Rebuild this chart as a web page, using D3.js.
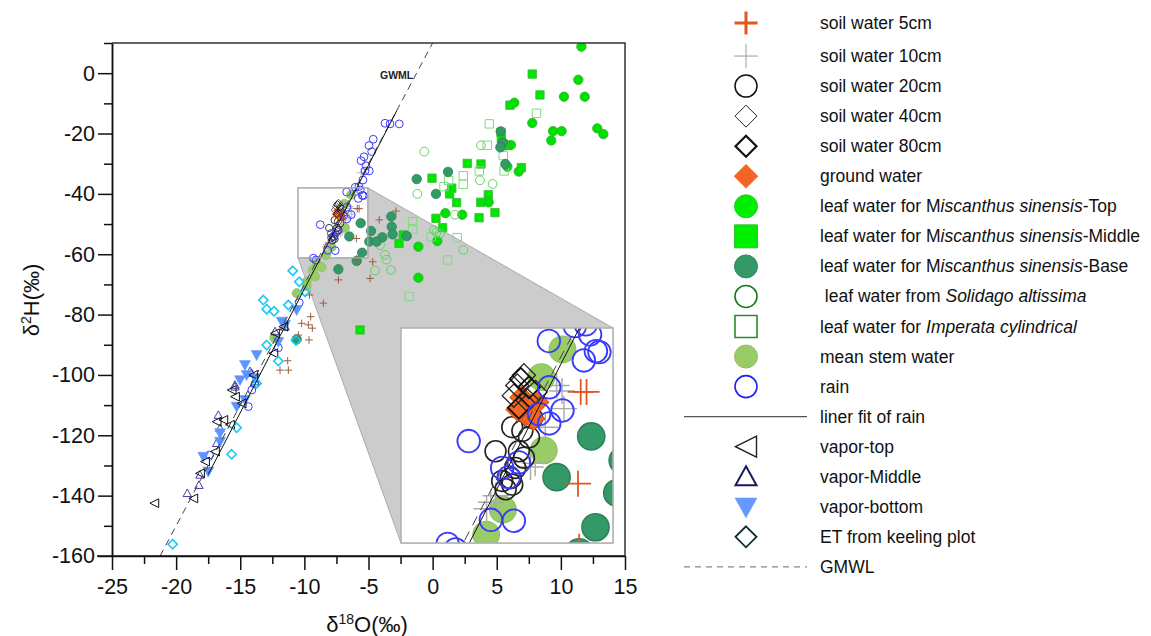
<!DOCTYPE html>
<html>
<head>
<meta charset="utf-8">
<script src="https://cdn.jsdelivr.net/npm/d3@7"></script>
<style>
  body { margin: 0; background: #fff; }
  text { font-family: "Liberation Sans", Arial, sans-serif; }
</style>
</head>
<body>
<div id="chart"></div>
<script>
// isotope data, [d18O, d2H] pairs
const soil5cm = [[-5.88,-44.9],[-5.73,-44.9],[-2.86,-45.7],[-4.16,-48.6],[-5.95,-54.8],[-5.92,-61.6],[-4.67,-62.5],
  [-4.88,-68.0],[-7.35,-68.5],[-8.52,-76.2],[-9.51,-80.7],[-9.6,-73.5],[-10.21,-82.9],[-9.69,-83.4],[-9.38,-84.5],
  [-10.47,-86.8],[-9.64,-88.4],[-11.3,-95.3],[-11.9,-98.4],[-11.25,-98.4]];
const soil10cm = [[-6.36,-44.8],[-6.31,-46.7],[-6.79,-48.7],[-7.17,-53.0],[-7.05,-52.6],[-8.07,-56.1],[-8.19,-56.8],
  [-8.3,-57.5],[-6.5,-44.2],[-5.58,-33.0]];
const soil20cm = [[-7.64,-48.7],[-7.38,-49.1],[-8.07,-51.3],[-7.47,-51.3],[-7.34,-52.0],[-7.56,-53.1],[-7.68,-54.2],
  [-7.9,-54.5],[-7.64,-54.9],[-7.81,-55.4],[-7.13,-47.7],[-7.21,-49.8]];
const soil40cm = [[-7.34,-43.1],[-7.51,-44.2],[-7.6,-45.3],[-7.04,-44.9],[-7.25,-45.8]];
const soil80cm = [[-7.42,-43.5],[-7.21,-44.4],[-7.47,-46.6]];
const groundWater = [[-7.4,-45.5],[-7.2,-46.5],[-7.3,-47.3],[-7.0,-46.0],[-7.5,-46.8],[-7.1,-47.8]];
const leafTop = [[11.6,8.8],[11.36,-2.2],[10.24,-7.8],[11.86,-7.8],[6.37,-9.8],[7.77,-16.5],[9.39,-19.2],[10.06,-19.2],
  [9.25,-22.3],[12.84,-18.3],[13.31,-20.2],[6.11,-23.8],[5.7,-23.9],[5.83,-31],[6.71,-32.6],[4.37,-42.8],[0.99,-46.4],
  [2.31,-46.9],[0.37,-55.6],[-1.11,-57.5],[-1.11,-67.8]];
const leafMiddle = [[7.77,-0.3],[8.37,-7.2],[6.03,-10.6],[5.33,-19.6],[5.36,-21.9],[5.5,-23.5],[5.82,-23.9],[2.70,-29.9],
  [3.77,-30.1],[6.92,-31.3],[-0.05,-34.8],[1.49,-38.1],[1.33,-40.0],[1.87,-42.9],[4.34,-40.3],[3.75,-42.8],[4.86,-46.2],
  [3.62,-47.9],[0.26,-48.1],[0.78,-51.2],[-2.29,-53.6],[-2.62,-56.4],[-5.66,-85.1]];
const leafBase = [[5.31,-19.3],[5.49,-23.0],[5.28,-24.6],[5.67,-30.1],[1.20,-32.7],[0.26,-40.0],[-1.24,-35.1],
  [-3.22,-47.5],[-3.19,-50.9],[-3.92,-54.4],[-3.12,-53.4],[-4.8,-52.3],[-4.94,-55.8],[-4.36,-55.8],[-5.61,-49.7],
  [-6.5,-54.1],[-2.02,-54.0],[-5.5,-59.5],[-7.35,-65.0],[-5.92,-62.2],[-10.6,-88.2]];
const solidago = [[3.77,-23.9],[3.69,-35.5],[4.68,-36.7],[1.74,-46.9],[0.11,-52],[0.57,-53.1],[2.39,-58.6],[-0.65,-26],
  [-1.19,-40],[-4.1,-57],[-3.71,-60.2],[-3.6,-61.8],[-4.49,-65.4],[-3.25,-65.2],[0.3,-52.8]];
const imperata = [[8.1,-13.3],[4.42,-16.8],[4.26,-23.9],[5.51,-27.3],[5.57,-32.4],[3.64,-32.4],[2.39,-34.0],[2.39,-36.8],
  [0.89,-37.6],[1.25,-35.6],[1.92,-54.5],[1.17,-61.9],[-1.56,-49.2],[-1.56,-51.6],[-0.1,-54.2],[-1.82,-74]];
const stemWater = [[-6.35,-40.3],[-6.89,-43.3],[-6.83,-51.2],[-7.88,-57.6],[-8.31,-60.3],[-9.04,-63],[-8.65,-64.3],
  [-9.35,-65.2],[-9.17,-67.4],[-9.82,-70.7],[-10.6,-72.9],[-12.35,-87.8],[-9.82,-69.1]];
const rain = [[-3.71,-16.6],[-3.32,-16.8],[-2.6,-16.8],[-4.63,-21.9],[-4.96,-24.0],[-4.75,-26],[-5.35,-27.7],[-5.58,-29],
  [-5.19,-30.7],[-4.94,-32.4],[-5.27,-32.4],[-5.43,-35.4],[-6.03,-37.8],[-6.70,-39.4],[-5.64,-38.7],[-5.8,-41.5],
  [-5.4,-40.6],[-5.49,-40.5],[-5.75,-37.6],[-6.69,-44.4],[-6.35,-46.9],[-6.95,-47.3],[-6.69,-48.3],[-8.76,-50.2],
  [-7.47,-52.5],[-7.9,-53.1],[-7.73,-54.1],[-8.19,-58.7],[-7.6,-58.8],[-9.1,-61.9],[-9.3,-61.3],[-10.4,-76],
  [-12.03,-91],[-14.37,-110.5],[-14.1,-105],[-13.85,-103],[-17.4,-126.5]];
const vaporTop = [[-21.7,-142.5],[-18.66,-140.9],[-18.14,-132.6],[-17.75,-128.7],[-16.97,-125.4],[-15.8,-116.5],
  [-16.32,-114.9],[-16.84,-115.5],[-15.41,-107.2],[-15.67,-105],[-14.89,-109.4],[-13.98,-100],[-12.42,-92.8],
  [-12.29,-86.2],[-11.64,-84]];
const vaporMiddle = [[-19.13,-139.2],[-18.22,-136.5],[-18.14,-133.1],[-16.71,-113.3],[-16.58,-117.7],[-15.41,-103.3],
  [-14.11,-99.4],[-12.29,-85.6],[-16.84,-122.6],[-11.51,-84],[-14.24,-98.8],[-15.41,-103.9],[-13.85,-102.2]];
const vaporBottom = [[-10.6,-78.5],[-11.77,-82.3],[-11.51,-83.4],[-12.03,-89],[-13.72,-93.4],[-14.63,-96.7],[-14.5,-100],
  [-15.02,-101.7],[-13.85,-101.1],[-15.28,-110.5],[-14.63,-108.3],[-16.58,-119.3],[-16.58,-122.1],[-17.88,-127.1],
  [-17.49,-132]];
const etKeeling = [[-10.91,-65.5],[-10.4,-69.1],[-9.95,-72.4],[-13.2,-75.2],[-12.94,-78.2],[-12.37,-78.9],[-11.25,-76.8],
  [-10.65,-88.6],[-12.94,-90.1],[-12.03,-95.4],[-13.72,-102.8],[-15.28,-117.5],[-15.67,-126.3],[-20.27,-156.1]];

// lines: GMWL and linear fit of rain (slope, intercept, x range)
const gmwl = { slope: 8, intercept: 10 };
const rainFit = { slope: 8.2, intercept: 10.5, from: -17.5, to: -2.8 };

// tick values
const xMajorTicks = [-25, -20, -15, -10, -5, 0, 5, 10, 15];
const yMajorTicks = [-160, -140, -120, -100, -80, -60, -40, -20, 0];

// zoomed region (data units)
const zoomX = [-10.5, -5.05];
const zoomY = [-61.2, -38.0];

const width = 1151, height = 636;
const plot = { left: 112, top: 43, right: 625, bottom: 556 };
const inset = { left: 401, top: 328, right: 613, bottom: 543 };

const svg = d3.select("#chart").append("svg")
  .attr("width", width).attr("height", height);

const x = d3.scaleLinear().domain([-25, 15]).range([plot.left, plot.right]);
const y = d3.scaleLinear().domain([-160, 10]).range([plot.bottom, plot.top]);

const ix = d3.scaleLinear().domain(zoomX).range([inset.left, inset.right]);
const iy = d3.scaleLinear().domain(zoomY).range([inset.bottom, inset.top]);

function marker(shape, s) {
  switch (shape) {
    case "circle": return `M${s},0A${s},${s} 0 1,1 ${-s},0A${s},${s} 0 1,1 ${s},0Z`;
    case "square": return `M${-s},${-s}H${s}V${s}H${-s}Z`;
    case "diamond": return `M0,${-s}L${s},0L0,${s}L${-s},0Z`;
    case "plus": return `M${-s},0H${s}M0,${-s}V${s}`;
    case "triLeft": return `M${-s},0L${s},${-s}L${s},${s}Z`;
    case "triUp": return `M0,${-s}L${s},${s * 0.8}L${-s},${s * 0.8}Z`;
    case "triDown": return `M${-s},${-s * 0.8}L${s},${-s * 0.8}L0,${s}Z`;
  }
}

// drawing order and style per series
const series = [
  { data: leafMiddle, shape: "square", r: 4.2, fill: "#00e600", stroke: "#3bb83b", sw: 0.8 },
  { data: leafTop, shape: "circle", r: 4.7, fill: "#00e000", stroke: "#2fb02f", sw: 0.8 },
  { data: imperata, shape: "square", r: 4.2, fill: "none", stroke: "#7ae07a", sw: 1 },
  { data: solidago, shape: "circle", r: 4.4, fill: "none", stroke: "#5fd35f", sw: 1 },
  { data: leafBase, shape: "circle", r: 4.7, fill: "#339966", stroke: "#2d7f58", sw: 0.8 },
  { data: stemWater, shape: "circle", r: 4.6, fill: "#99cc66", stroke: "#8dbf5e", sw: 0.6 },
  { data: soil10cm, shape: "plus", r: 4.5, fill: "none", stroke: "#aaaaaa", sw: 0.8 },
  { data: soil20cm, shape: "circle", r: 3.6, fill: "none", stroke: "#222", sw: 0.9 },
  { data: groundWater, shape: "diamond", r: 4, fill: "#f26522", stroke: "#d8541a", sw: 0.6 },
  { data: soil40cm, shape: "diamond", r: 4, fill: "none", stroke: "#222", sw: 0.7 },
  { data: soil80cm, shape: "diamond", r: 3.8, fill: "none", stroke: "#111", sw: 1 },
  { data: rain, shape: "circle", r: 3.9, fill: "none", stroke: "#3a3aff", sw: 1 },
  { data: soil5cm, shape: "plus", r: 3.8, fill: "none", stroke: "#9a5e42", sw: 1, insetStroke: "#e2571e", insetR: 4.5 },
  { data: vaporMiddle, shape: "triUp", r: 4.2, fill: "none", stroke: "#2a2a9a", sw: 0.9 },
  { data: vaporBottom, shape: "triDown", r: 5.5, fill: "#5b95ff", stroke: "#5b95ff", sw: 0.5 },
  { data: vaporTop, shape: "triLeft", r: 4.4, fill: "none", stroke: "#111", sw: 1 },
  { data: etKeeling, shape: "diamond", r: 4.6, fill: "none", stroke: "#19c8f5", sw: 1.6 }
];

function drawSeries(g, sx, sy, k) {
  series.forEach(s => {
    const big = k > 1;
    g.append("g").selectAll("path").data(s.data).join("path")
      .attr("transform", d => `translate(${sx(d[0])},${sy(d[1])})`)
      .attr("d", marker(s.shape, (big && s.insetR ? s.insetR : s.r) * k))
      .attr("fill", s.fill)
      .attr("stroke", big && s.insetStroke ? s.insetStroke : s.stroke)
      .attr("stroke-width", big ? s.sw * 1.8 : s.sw);
  });
}

function drawLines(g, sx, sy, dash) {
  g.append("line")
    .attr("x1", sx(-21.25)).attr("y1", sy(gmwl.slope * -21.25 + gmwl.intercept))
    .attr("x2", sx(0)).attr("y2", sy(gmwl.intercept))
    .attr("stroke", "#444").attr("stroke-width", 1).attr("stroke-dasharray", dash);
  g.append("line")
    .attr("x1", sx(rainFit.from)).attr("y1", sy(rainFit.slope * rainFit.from + rainFit.intercept))
    .attr("x2", sx(rainFit.to)).attr("y2", sy(rainFit.slope * rainFit.to + rainFit.intercept))
    .attr("stroke", "#111").attr("stroke-width", 1);
}

// clip for main plot
const defs = svg.append("defs");
defs.append("clipPath").attr("id", "plotClip").append("rect")
  .attr("x", plot.left).attr("y", plot.top)
  .attr("width", plot.right - plot.left).attr("height", plot.bottom - plot.top);
defs.append("clipPath").attr("id", "insetClip").append("rect")
  .attr("x", inset.left).attr("y", inset.top)
  .attr("width", inset.right - inset.left).attr("height", inset.bottom - inset.top);

// gray zoom connector
const bx0 = x(zoomX[0]), bx1 = x(zoomX[1]), by0 = y(zoomY[1]), by1 = y(zoomY[0]);
svg.append("path")
  .attr("d", `M${bx1},${by0}L${inset.right},${inset.top}L${inset.right},${inset.bottom}L${inset.left},${inset.bottom}L${bx0},${by1}L${bx1},${by1}Z`)
  .attr("fill", "#cccccc").attr("stroke", "#aaaaaa").attr("stroke-width", 1);
svg.append("rect")
  .attr("x", bx0).attr("y", by0).attr("width", bx1 - bx0).attr("height", by1 - by0)
  .attr("fill", "#fff").attr("stroke", "#b0b0b0").attr("stroke-width", 1.2);

const main = svg.append("g").attr("clip-path", "url(#plotClip)");
drawSeries(main, x, y, 1);
drawLines(main, x, y, "7,5");

// redraw box border on top
svg.append("rect")
  .attr("x", bx0).attr("y", by0).attr("width", bx1 - bx0).attr("height", by1 - by0)
  .attr("fill", "none").attr("stroke", "#b0b0b0").attr("stroke-width", 1.2);

// inset
svg.append("rect")
  .attr("x", inset.left).attr("y", inset.top)
  .attr("width", inset.right - inset.left).attr("height", inset.bottom - inset.top)
  .attr("fill", "#fff");
const ins = svg.append("g").attr("clip-path", "url(#insetClip)");
drawSeries(ins, ix, iy, 2.9);
drawLines(ins, ix, iy, "10,7");
svg.append("rect")
  .attr("x", inset.left).attr("y", inset.top)
  .attr("width", inset.right - inset.left).attr("height", inset.bottom - inset.top)
  .attr("fill", "none").attr("stroke", "#b0b0b0").attr("stroke-width", 1.5);

svg.append("text")
  .attr("x", 380).attr("y", 79)
  .attr("font-size", 10.5).attr("font-weight", "bold").attr("fill", "#222")
  .text("GWML");

// axes
const xAxis = svg.append("g").attr("transform", `translate(0,${plot.bottom})`)
  .call(d3.axisBottom(x).tickValues(xMajorTicks).tickSize(14).tickSizeOuter(0).tickPadding(9).tickFormat(d => d));
const xMinor = svg.append("g").attr("transform", `translate(0,${plot.bottom})`)
  .call(d3.axisBottom(x).tickValues(xMajorTicks.slice(1).map(d => d - 2.5)).tickSize(8).tickSizeOuter(0).tickFormat(""));
const yAxis = svg.append("g").attr("transform", `translate(${plot.left},0)`)
  .call(d3.axisLeft(y).tickValues(yMajorTicks).tickSize(14).tickSizeOuter(0).tickPadding(3).tickFormat(d => d));
const yMinor = svg.append("g").attr("transform", `translate(${plot.left},0)`)
  .call(d3.axisLeft(y).tickValues(yMajorTicks.slice(1).map(d => d - 10).concat([10])).tickSize(8).tickSizeOuter(0).tickFormat(""));

[xAxis, xMinor, yAxis, yMinor].forEach(a => {
  a.selectAll("path, line").attr("stroke", "#111").attr("stroke-width", 1.5);
  a.selectAll("text").attr("font-size", 21.5).attr("fill", "#111")
    .attr("font-family", '"Liberation Sans", Arial, sans-serif');
});
xAxis.select(".domain").attr("d", `M${plot.left - 15},0H${plot.right}`);

// top and right frame
svg.append("path")
  .attr("d", `M${plot.left},${plot.top}H${plot.right}V${plot.bottom}`)
  .attr("fill", "none").attr("stroke", "#333").attr("stroke-width", 1.5);

// axis titles
const xt = svg.append("text").attr("x", 367).attr("y", 632).attr("text-anchor", "middle")
  .attr("font-size", 22).attr("fill", "#111");
xt.append("tspan").text("δ");
xt.append("tspan").attr("font-size", 14).attr("dy", -8).text("18");
xt.append("tspan").attr("dy", 8).text("O(‰)");

const yt = svg.append("text").attr("transform", "translate(39,300) rotate(-90)").attr("text-anchor", "middle")
  .attr("font-size", 22).attr("fill", "#111");
yt.append("tspan").text("δ");
yt.append("tspan").attr("font-size", 14).attr("dy", -8).text("2");
yt.append("tspan").attr("dy", 8).text("H(‰)");

// legend
const legendLabels = [
  [["soil water 5cm", false]],
  [["soil water 10cm", false]],
  [["soil water 20cm", false]],
  [["soil water 40cm", false]],
  [["soil water 80cm", false]],
  [["ground water", false]],
  [["leaf water for M", false], ["iscanthus sinensis", true], ["-Top", false]],
  [["leaf water for M", false], ["iscanthus sinensis", true], ["-Middle", false]],
  [["leaf water for M", false], ["iscanthus sinensis", true], ["-Base", false]],
  [["\u00a0leaf water from ", false], ["Solidago altissima", true]],
  [["leaf water for ", false], ["Imperata cylindrical", true]],
  [["mean stem water", false]],
  [["rain", false]],
  [["liner fit of rain", false]],
  [["vapor-top", false]],
  [["vapor-Middle", false]],
  [["vapor-bottom", false]],
  [["ET from keeling plot", false]],
  [["GMWL", false]]
];
const legendSymbols = [
  { shape: "plus", r: 11.5, fill: "none", stroke: "#e2571e", sw: 3 },
  { shape: "plus", r: 12, fill: "none", stroke: "#999", sw: 1 },
  { shape: "circle", r: 11, fill: "none", stroke: "#111", sw: 1.5 },
  { shape: "diamond", r: 11, fill: "none", stroke: "#222", sw: 1 },
  { shape: "diamond", r: 10.5, fill: "none", stroke: "#111", sw: 2.2 },
  { shape: "diamond", r: 12, fill: "#f26522", stroke: "#f26522", sw: 0.5 },
  { shape: "circle", r: 11.5, fill: "#00ee00", stroke: "#22cc22", sw: 1 },
  { shape: "square", r: 11.5, fill: "#00ee00", stroke: "#33c033", sw: 1 },
  { shape: "circle", r: 11.5, fill: "#339966", stroke: "#2d8a5c", sw: 1 },
  { shape: "circle", r: 11, fill: "none", stroke: "#1b7a1b", sw: 1.6 },
  { shape: "square", r: 11, fill: "none", stroke: "#2a8c2a", sw: 1.6 },
  { shape: "circle", r: 11.5, fill: "#99cc66", stroke: "#8fc05f", sw: 1 },
  { shape: "circle", r: 11, fill: "none", stroke: "#2020ff", sw: 1.6 },
  { line: "solid" },
  { shape: "triLeft", r: 10.5, fill: "none", stroke: "#222", sw: 1.4 },
  { shape: "triUp", r: 10.5, fill: "none", stroke: "#1a1a5a", sw: 2 },
  { shape: "triDown", r: 11, fill: "#6699ff", stroke: "#6699ff", sw: 0.5 },
  { shape: "diamond", r: 10.5, fill: "none", stroke: "#0d2b2b", sw: 1.8 },
  { line: "dash" }
];

const legend = svg.append("g");
const rowY = i => i === 0 ? 23 : 26 + i * 30.05;
legendSymbols.forEach((s, i) => {
  const cy = rowY(i);
  if (s.line) {
    legend.append("line").attr("x1", 684).attr("x2", 807).attr("y1", cy).attr("y2", cy)
      .attr("stroke", s.line === "dash" ? "#888" : "#555").attr("stroke-width", 1.3)
      .attr("stroke-dasharray", s.line === "dash" ? "6,5" : null);
  } else {
    legend.append("path").attr("transform", `translate(746,${cy})`)
      .attr("d", marker(s.shape, s.r)).attr("fill", s.fill)
      .attr("stroke", s.stroke).attr("stroke-width", s.sw);
  }
  const t = legend.append("text").attr("x", 820).attr("y", cy + 6)
    .attr("font-size", 17.5).attr("fill", "#111");
  legendLabels[i].forEach(p => {
    t.append("tspan").attr("font-style", p[1] ? "italic" : null).text(p[0]);
  });
});
</script>
</body>
</html>
